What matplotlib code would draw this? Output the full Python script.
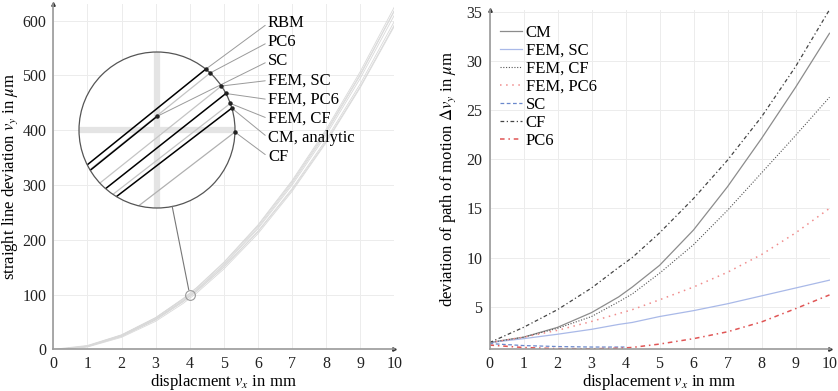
"""
Straight line deviation of the models (left) and deviation of the path of motion (right).
"""

import numpy as np
import matplotlib
matplotlib.use("Agg")
import matplotlib.pyplot as plt
from matplotlib.patches import Circle
from matplotlib.lines import Line2D

plt.rcParams['font.family'] = ['Liberation Serif', 'DejaVu Serif']
plt.rcParams['mathtext.fontset'] = 'stix'

"""Data read off the chart (displacement v_x in mm)."""
X = [0, 1, 2, 3, 3.8, 4.2, 5, 6, 7, 8, 9, 10]
RBM = [0, 7, 26.5, 58, 92.4, 112.5, 159, 227, 308, 401.5, 507, 625]

"""Deviation of path of motion in um."""
CM = [1.35, 1.9, 2.9, 4.4, 6.0, 7.0, 9.2, 12.8, 17.2, 22.1, 27.3, 32.8]
CF = [1.35, 2.9, 4.7, 6.9, 9.0, 10.0, 12.5, 16.0, 19.9, 24.3, 29.4, 35.2]
FEM_CF = [1.35, 1.9, 2.8, 4.0, 5.5, 6.3, 8.4, 11.3, 14.8, 18.6, 22.4, 26.3]
FEM_PC6 = [1.35, 1.9, 2.6, 3.5, 4.3, 4.7, 5.7, 7.0, 8.5, 10.3, 12.5, 15.0]
FEM_SC = [1.35, 1.75, 2.2, 2.7, 3.2, 3.4, 4.0, 4.6, 5.3, 6.1, 6.9, 7.7]
PC6 = [1.1, 0.85, 0.74, 0.72, 0.78, 0.86, 1.2, 1.75, 2.45, 3.45, 4.8, 6.2]
SC_X = [0, 1, 2, 3, 3.8, 4.0]
SC = [1.25, 1.05, 0.95, 0.9, 0.9, 0.9]

W, H = 838, 391
FS = 12


def px_box(x0, y_top, x1, y_bottom):
    """Axes rectangle from pixel coordinates (origin top left)."""
    return [x0 / W, 1 - y_bottom / H, (x1 - x0) / W, (y_bottom - y_top) / H]


def style_axes(ax):
    for s in ['top', 'right']:
        ax.spines[s].set_visible(False)
    for s in ['left', 'bottom']:
        ax.spines[s].set_color('#9a9a9a')
        ax.spines[s].set_linewidth(1.2)
    ax.tick_params(length=0, labelsize=11.5, pad=5, colors='#222222')
    ax.grid(True, color='#ececec', lw=0.7)
    ax.set_axisbelow(True)
    ax.plot(1, 0, '>', ms=2.5, color='#333333', transform=ax.transAxes, clip_on=False)
    ax.plot(0, 1, '^', ms=2.5, color='#333333', transform=ax.transAxes, clip_on=False)


fig = plt.figure(figsize=(W / 100, H / 100), dpi=100)

"""Left: straight line deviation."""
ax1 = fig.add_axes(px_box(53.3, 4.3, 394.3, 349.3))
style_axes(ax1)
ax1.set_xlim(0, 10)
ax1.set_ylim(0, 630)
ax1.set_xticks(range(11))
ax1.set_yticks(range(0, 601, 100))
ax1.set_xlabel('displacment $v_x$ in mm', fontsize=FS, labelpad=0)
ax1.set_ylabel('straight line deviation $v_y$ in $\\mu$m', fontsize=FS, labelpad=2)

rbm = np.array(RBM)
left_curves = [
    ("RBM", X, rbm, 'black'),
    ("PC6", X, rbm - np.array(PC6), '#c4c4c4'),
    ("SC", SC_X, np.interp(SC_X, X, RBM) - np.array(SC), 'black'),
    ("FEM, SC", X, rbm - np.array(FEM_SC), '#c4c4c4'),
    ("FEM, PC6", X, rbm - np.array(FEM_PC6), 'black'),
    ("FEM, CF", X, rbm - np.array(FEM_CF), '#c4c4c4'),
    ("CM, analytic", X, rbm - np.array(CM), 'black'),
    ("CF", X, rbm - np.array(CF), '#b0b0b0'),
]
for name, xs, ys, col in left_curves:
    ax1.plot(xs, ys, color='#d9d9d9', lw=0.6)

"""Magnified view of the spot (4, 100)."""
SPOT = (4, 100)
MAG = 16
R_BIG = 78
BIG_C = (157, 130)
p0 = ax1.transData.transform((0, 0))
p1 = ax1.transData.transform((1, 1))
sx, sy = p1 - p0
r_small = R_BIG / MAG
hx, hy = r_small / sx, r_small / sy

ax1.plot(*SPOT, 'o', ms=2 * r_small * 0.72, mfc='none', mec='#9a9a9a', mew=0.8)

ins = fig.add_axes(px_box(BIG_C[0] - R_BIG, BIG_C[1] - R_BIG, BIG_C[0] + R_BIG, BIG_C[1] + R_BIG))
ins.axis('off')
ins.set_xlim(SPOT[0] - hx, SPOT[0] + hx)
ins.set_ylim(SPOT[1] - hy, SPOT[1] + hy)
disk = Circle((0.5, 0.5), 0.5, transform=ins.transAxes, fc='white', ec='none', zorder=0)
ins.add_patch(disk)
for ln in [ins.axvline(SPOT[0], color='#e4e4e4', lw=4.5), ins.axhline(SPOT[1], color='#e4e4e4', lw=4.5)]:
    ln.set_clip_path(disk)
for name, xs, ys, col in left_curves:
    ln, = ins.plot(xs, ys, color=col, lw=1.1 if col == 'black' else 0.9)
    ln.set_clip_path(disk)
ins.add_patch(Circle((0.5, 0.5), 0.5, transform=ins.transAxes, fill=False,
                     ec='#555555', lw=0.9, zorder=5, clip_on=False))

"""Connector between the spot and the magnified view."""
c_small = ax1.transData.transform(SPOT)
c_big = np.array([BIG_C[0], H - BIG_C[1]])
d = (c_big - c_small) / np.hypot(*(c_big - c_small))
a = c_small + d * r_small
b = c_big - d * R_BIG
fig.add_artist(Line2D([a[0] / W, b[0] / W], [a[1] / H, b[1] / H],
                      transform=fig.transFigure, color='#777777', lw=0.8))

"""Labels pointing at the curves on the edge of the magnified view."""
LABEL_X = 268
LABEL_TOP = 23.3
LABEL_STEP = 19.05
for i, (name, xs, ys, col) in enumerate(left_curves):
    xx = np.linspace(SPOT[0] - hx, min(SPOT[0] + hx, xs[-1]), 2000)
    yy = np.interp(xx, xs, ys)
    inside = ((xx - SPOT[0]) / hx) ** 2 + ((yy - SPOT[1]) / hy) ** 2 <= 1
    j = np.nonzero(inside)[0][-1]
    ins.plot(xx[j], yy[j], 'o', ms=2.2, color='#222222', clip_on=False, zorder=6)
    ins.annotate(name, xy=(xx[j], yy[j]), xycoords='data',
                 xytext=(LABEL_X / W, 1 - (LABEL_TOP + i * LABEL_STEP) / H),
                 textcoords='figure fraction', ha='left', va='center', fontsize=FS,
                 arrowprops=dict(arrowstyle='-', color='#9a9a9a', lw=0.7,
                                 shrinkA=0, shrinkB=0, relpos=(0, 0.5)),
                 annotation_clip=False)

"""Right: deviation of path of motion."""
ax2 = fig.add_axes(px_box(489.5, 9.7, 829.5, 349.0))
style_axes(ax2)
ax2.set_xlim(0, 10)
ax2.set_ylim(0.7, 35.2)
ax2.set_xticks(range(11))
ax2.set_yticks(range(5, 36, 5))
ax2.set_xlabel('displacement $v_x$ in mm', fontsize=FS, labelpad=0)
ax2.set_ylabel('deviation of path of motion $\\Delta v_y$ in $\\mu$m', fontsize=FS, labelpad=6)

ax2.plot(X, CM, color='#8c8c8c', lw=0.9, label='CM')
ax2.plot(X, FEM_SC, color='#a9b9e8', lw=0.9, label='FEM, SC')
ax2.plot(X, FEM_CF, color='#555555', lw=0.8, ls=(0, (1, 1.5)), label='FEM, CF')
ax2.plot(X, FEM_PC6, color='#f08c8c', lw=1.1, ls=(0, (1, 3)), label='FEM, PC6')
ax2.plot(SC_X, SC, color='#6a88cc', lw=0.9, ls=(0, (3, 2)), label='SC')
ax2.plot(X, CF, color='#444444', lw=0.9, ls=(0, (3, 2, 1, 2)), label='CF')
ax2.plot(X, PC6, color='#e05555', lw=1.1, ls=(0, (3, 2.5, 1, 2.5)), label='PC6')

ax2.legend(loc='upper left', bbox_to_anchor=(500 / W, 1 - 25 / H), bbox_transform=fig.transFigure,
           frameon=False, fontsize=FS, borderpad=0, borderaxespad=0, handlelength=1.3,
           handletextpad=0.25, labelspacing=0.12)

fig.savefig('out.png', dpi=100)
